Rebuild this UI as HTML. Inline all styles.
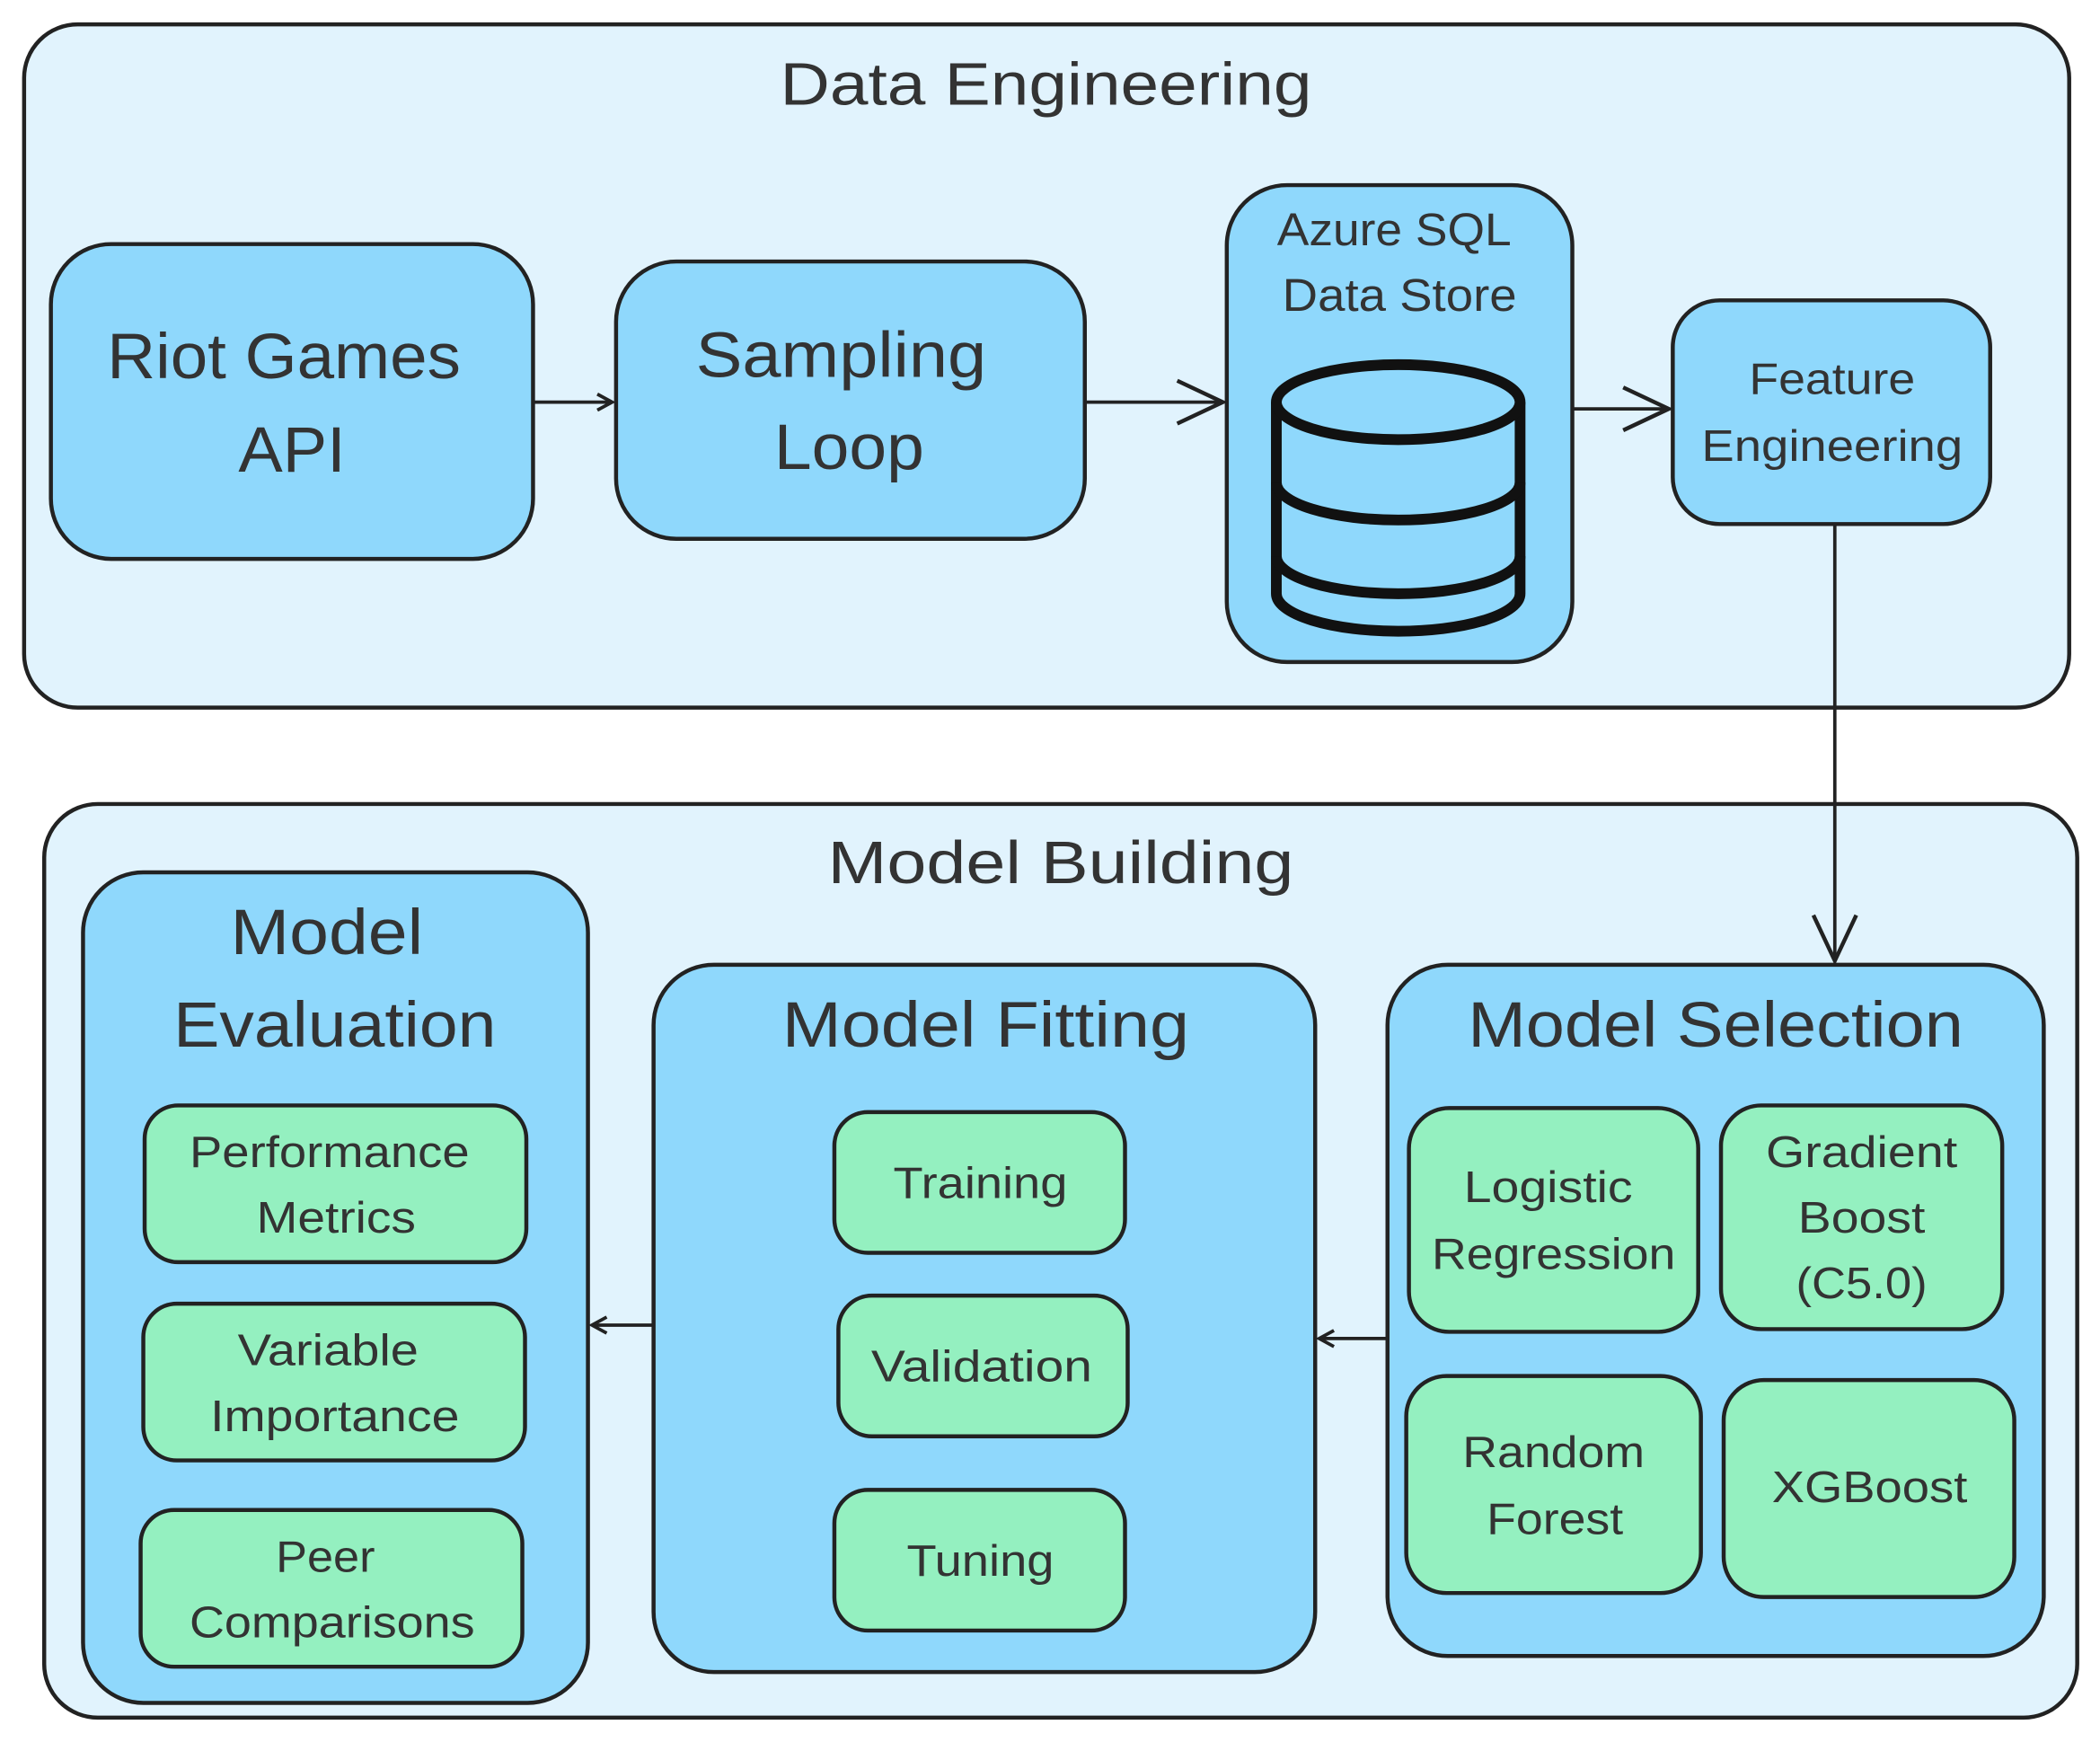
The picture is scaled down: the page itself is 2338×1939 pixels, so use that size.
<!DOCTYPE html>
<html><head><meta charset="utf-8"><style>
html,body{margin:0;padding:0;background:#fff;}
svg{display:block;}
text{font-family:"Liberation Sans",sans-serif;fill:#333;text-anchor:middle;}
</style></head><body>
<svg width="2338" height="1939" viewBox="0 0 1568 1300" xmlns="http://www.w3.org/2000/svg">
<defs>
<marker id="a" markerWidth="14" markerHeight="14" refX="12" refY="7" orient="auto" markerUnits="userSpaceOnUse">
<path d="M1,1 L12,7 L1,13" fill="none" stroke="#222" stroke-width="2.5"/>
</marker>
<marker id="b" markerWidth="40" markerHeight="40" refX="36" refY="20" orient="auto" markerUnits="userSpaceOnUse">
<path d="M2,4 L36,20 L2,36" fill="none" stroke="#222" stroke-width="3"/>
</marker>
</defs>
<g stroke="#222" stroke-width="3">
<rect x="18" y="18" width="1527" height="510" rx="40" fill="#e1f3fd"/>
<rect x="33" y="600" width="1518" height="682" rx="40" fill="#e1f3fd"/>
<g fill="#8fd8fc">
<rect x="38" y="182" width="360" height="235" rx="45"/>
<rect x="460" y="195" width="350" height="207" rx="45"/>
<rect x="916" y="138" width="258" height="356" rx="45"/>
<rect x="1249" y="224" width="237" height="167" rx="35"/>
<rect x="62" y="651" width="377" height="620" rx="45"/>
<rect x="488" y="720" width="494" height="528" rx="45"/>
<rect x="1036" y="720" width="490" height="516" rx="45"/>
</g>
<g fill="#94f0c0">
<rect x="108" y="825" width="285" height="117" rx="25"/>
<rect x="107" y="973" width="285" height="117" rx="25"/>
<rect x="105" y="1127" width="285" height="117" rx="25"/>
<rect x="623" y="830" width="217" height="105" rx="25"/>
<rect x="626" y="967" width="216" height="105" rx="25"/>
<rect x="623" y="1112" width="217" height="105" rx="25"/>
<rect x="1052" y="827" width="216" height="167" rx="30"/>
<rect x="1285" y="825" width="210" height="167" rx="30"/>
<rect x="1050" y="1027" width="220" height="162" rx="30"/>
<rect x="1287" y="1030" width="217" height="162" rx="30"/>
</g>
</g>
<g stroke="#111" stroke-width="8" fill="#8fd8fc">
<path d="M953,300 L953,443 A91,28 0 0 0 1135,443 L1135,300"/>
<path d="M953,360 A91,28 0 0 0 1135,360" fill="none"/>
<path d="M953,415 A91,28 0 0 0 1135,415" fill="none"/>
<ellipse cx="1044" cy="300" rx="91" ry="28"/>
</g>
<g stroke="#222" stroke-width="2.5" fill="none">
<line x1="398" y1="300" x2="457" y2="300" marker-end="url(#a)"/>
<line x1="810" y1="300" x2="913" y2="300" marker-end="url(#b)"/>
<line x1="1174" y1="305" x2="1246" y2="305" marker-end="url(#b)"/>
<line x1="1370" y1="391" x2="1370" y2="717" marker-end="url(#b)"/>
<line x1="1036" y1="999" x2="985" y2="999" marker-end="url(#a)"/>
<line x1="488" y1="989" x2="442" y2="989" marker-end="url(#a)"/>
</g>
<g lengthAdjust="spacingAndGlyphs">
<text x="781" y="78" font-size="45" textLength="397" lengthAdjust="spacingAndGlyphs">Data Engineering</text>
<text x="792" y="659" font-size="45" textLength="348" lengthAdjust="spacingAndGlyphs">Model Building</text>
<text x="212" y="282" font-size="48" textLength="264" lengthAdjust="spacingAndGlyphs">Riot Games</text>
<text x="218" y="352" font-size="48" textLength="80" lengthAdjust="spacingAndGlyphs">API</text>
<text x="628" y="281" font-size="48" textLength="217" lengthAdjust="spacingAndGlyphs">Sampling</text>
<text x="634" y="350" font-size="48" textLength="112" lengthAdjust="spacingAndGlyphs">Loop</text>
<text x="1041" y="183" font-size="34" textLength="175" lengthAdjust="spacingAndGlyphs">Azure SQL</text>
<text x="1045" y="232" font-size="34" textLength="175" lengthAdjust="spacingAndGlyphs">Data Store</text>
<text x="1368" y="294" font-size="33" textLength="124" lengthAdjust="spacingAndGlyphs">Feature</text>
<text x="1368" y="344" font-size="33" textLength="195" lengthAdjust="spacingAndGlyphs">Engineering</text>
<text x="244" y="712" font-size="48" textLength="144" lengthAdjust="spacingAndGlyphs">Model</text>
<text x="250" y="781" font-size="48" textLength="241" lengthAdjust="spacingAndGlyphs">Evaluation</text>
<text x="736" y="781" font-size="48" textLength="304" lengthAdjust="spacingAndGlyphs">Model Fitting</text>
<text x="1281" y="781" font-size="48" textLength="370" lengthAdjust="spacingAndGlyphs">Model Selection</text>
<g font-size="33">
<text x="246" y="871" textLength="209" lengthAdjust="spacingAndGlyphs">Performance</text>
<text x="251" y="920" textLength="119" lengthAdjust="spacingAndGlyphs">Metrics</text>
<text x="245" y="1019" textLength="135" lengthAdjust="spacingAndGlyphs">Variable</text>
<text x="250" y="1068" textLength="186" lengthAdjust="spacingAndGlyphs">Importance</text>
<text x="243" y="1173" textLength="74" lengthAdjust="spacingAndGlyphs">Peer</text>
<text x="248" y="1222" textLength="213" lengthAdjust="spacingAndGlyphs">Comparisons</text>
<text x="732" y="894" textLength="130" lengthAdjust="spacingAndGlyphs">Training</text>
<text x="733" y="1031" textLength="165" lengthAdjust="spacingAndGlyphs">Validation</text>
<text x="732" y="1176" textLength="110" lengthAdjust="spacingAndGlyphs">Tuning</text>
<text x="1156" y="897" textLength="126" lengthAdjust="spacingAndGlyphs">Logistic</text>
<text x="1160" y="947" textLength="182" lengthAdjust="spacingAndGlyphs">Regression</text>
<text x="1390" y="871" textLength="143" lengthAdjust="spacingAndGlyphs">Gradient</text>
<text x="1390" y="920" textLength="95" lengthAdjust="spacingAndGlyphs">Boost</text>
<text x="1390" y="969" textLength="98" lengthAdjust="spacingAndGlyphs">(C5.0)</text>
<text x="1160" y="1095" textLength="136" lengthAdjust="spacingAndGlyphs">Random</text>
<text x="1161" y="1145" textLength="102" lengthAdjust="spacingAndGlyphs">Forest</text>
<text x="1396" y="1121" textLength="146" lengthAdjust="spacingAndGlyphs">XGBoost</text>
</g>
</g>
</svg>
</body></html>
